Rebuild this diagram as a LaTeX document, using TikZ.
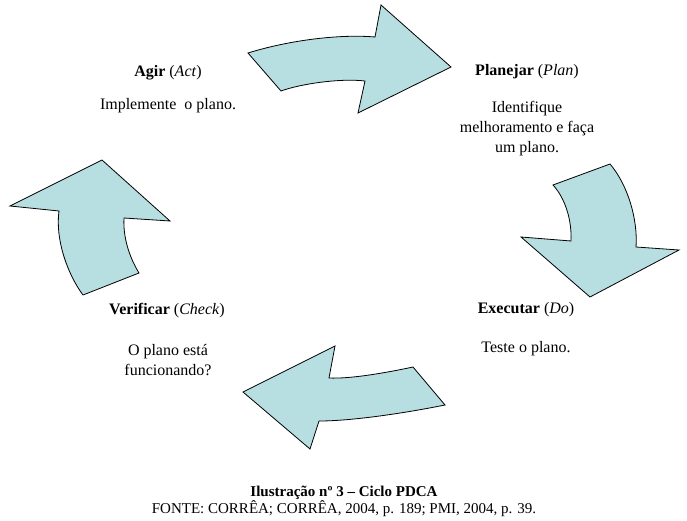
\documentclass[tikz,border=0pt]{standalone}
\usepackage{fontspec}
\setmainfont{Liberation Serif}
\definecolor{arrfill}{RGB}{183,222,224}
\begin{document}
\begin{tikzpicture}[x=1pt,y=-1pt,
  arr/.style={draw=black, fill=arrfill, line width=0.8pt, line join=miter},
  lbl/.style={font=\fontsize{16}{20}\selectfont, align=center, inner sep=0pt},
  captxt/.style={font=\fontsize{15}{16}\selectfont, align=center, inner sep=0pt}]
\useasboundingbox (0,0) rectangle (687,521);
% top arrow (Act -> Plan)
\draw[arr] (248,53) .. controls (290,40) and (340,34) .. (375,37) -- (381,5) -- (451,67) -- (358,113) -- (365,81)
  .. controls (340,78) and (300,84) .. (281,91) -- cycle;
% right arrow (Plan -> Do)
\draw[arr] (553,185) -- (610,164) .. controls (628,185) and (638,220) .. (636,247) -- (679,250) -- (590,297) -- (521,237) -- (571,241)
  .. controls (572,220) and (565,198) .. (553,185) -- cycle;
% bottom arrow (Do -> Check)
\draw[arr] (413,367) -- (445,405) .. controls (400,414) and (350,421) .. (319,421) -- (310,449) -- (243,392) -- (335,346) -- (329,378)
  .. controls (350,379) and (385,373) .. (413,367) -- cycle;
% left arrow (Check -> Act)
\draw[arr] (83,295) -- (139,273) .. controls (128,255) and (123,235) .. (124,218) -- (170,221) -- (102,160) -- (10,206) -- (59,211)
  .. controls (55,240) and (68,275) .. (83,295) -- cycle;
% labels
\node[lbl] (act) at (168,73) {\textbf{Agir} (\textit{Act})};
\node[lbl] (actt) at (168,106) {Implemente\ \ o plano.};
\node[lbl] (plan) at (527,72) {\textbf{Planejar} (\textit{Plan})};
\node[lbl] (plant) at (527,129) {Identifique\\melhoramento e faça\\um plano.};
\node[lbl] (do) at (526,310) {\textbf{Executar} (\textit{Do})};
\node[lbl] (dot) at (526,349) {Teste o plano.};
\node[lbl] (chk) at (167,311) {\textbf{Verificar} (\textit{Check})};
\node[lbl] (chkt) at (168,360) {O plano está\\funcionando?};
\node[captxt] (cap1) at (344,493) {\textbf{Ilustração nº 3 – Ciclo PDCA}};
\node[captxt] (cap2) at (344,509) {FONTE: CORRÊA; CORRÊA, 2004, p. 189; PMI, 2004, p. 39.};
\end{tikzpicture}
\end{document}
